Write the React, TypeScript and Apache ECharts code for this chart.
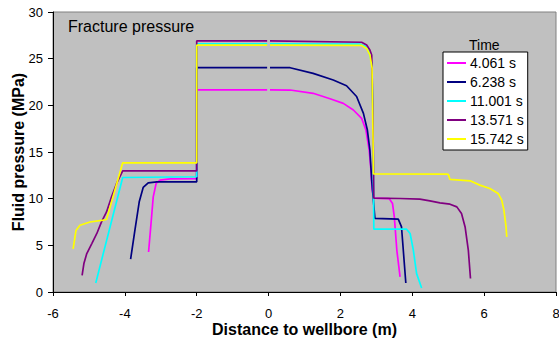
import React, { useEffect, useRef } from "react";
import * as echarts from "echarts";

const seriesNames = ["4.061 s", "6.238 s", "11.001 s", "13.571 s", "15.742 s"];
const seriesColors = ["#FF00FF", "#000080", "#00FFFF", "#800080", "#FFFF00"];

const GAP: any = ["-", "-"];

const s4061: any[] = [
  [-3.34, 4.29], [-3.28, 6.97], [-3.21, 10.19], [-3.13, 11.63], [-3.02, 11.98], [-2.74, 12.12], [-2.0, 12.15],
  [-2.0, 21.66], [-0.04, 21.66], GAP, [0.04, 21.66], [0.6, 21.64], [1.24, 21.29], [1.71, 20.7], [2.08, 20.21],
  [2.36, 19.5], [2.59, 18.6], [2.71, 17.35], [2.8, 15.2], [2.85, 13.06], [2.88, 11.0], [2.93, 10.05], [3.36, 10.0],
  [3.45, 9.48], [3.5, 8.05], [3.57, 4.47], [3.66, 1.61],
];
const s6238: any[] = [
  [-3.84, 3.51], [-3.72, 6.62], [-3.6, 9.66], [-3.49, 11.2], [-3.35, 11.7], [-3.11, 11.8], [-2.0, 11.8],
  [-2.0, 24.05], [-0.04, 24.05], GAP, [0.04, 24.05], [0.6, 24.03], [1.24, 23.43], [1.8, 22.71], [2.17, 22.1],
  [2.45, 20.95], [2.64, 19.14], [2.75, 17.35], [2.82, 15.2], [2.87, 11.98], [2.96, 7.88], [3.61, 7.8],
  [3.7, 6.97], [3.75, 4.47], [3.82, 0.97],
];
const s11001: any[] = [
  [-4.81, 0.97], [-4.06, 12.27], [-2.0, 12.35], [-2.0, 26.6], [-0.04, 26.6], GAP, [0.04, 26.6], [2.55, 26.55],
  [2.7, 26.3], [2.8, 25.7], [2.87, 24.5], [2.9, 20], [2.93, 6.73], [3.84, 6.73], [3.94, 6.27], [4.03, 4.47],
  [4.12, 1.97], [4.26, 0.43],
];
const s13571: any[] = [
  [-5.19, 1.79], [-5.14, 3.05], [-5.06, 4.12], [-4.92, 5.19], [-4.78, 6.27], [-4.65, 7.51], [-4.51, 8.58],
  [-4.37, 10.19], [-4.23, 11.63], [-4.06, 12.98], [-2.0, 12.98], [-2.0, 26.9], [-0.04, 26.9], GAP, [0.04, 26.9],
  [2.59, 26.76], [2.73, 26.47], [2.82, 25.93], [2.87, 25.4], [2.9, 20], [2.93, 10.05], [3.66, 10.02],
  [4.21, 9.95], [4.49, 9.77], [4.77, 9.55], [5.05, 9.41], [5.24, 9.12], [5.37, 8.41], [5.47, 6.97],
  [5.56, 4.47], [5.62, 1.44],
];
const s15742: any[] = [
  [-5.44, 4.61], [-5.36, 6.6], [-5.25, 7.15], [-4.97, 7.5], [-4.6, 7.7], [-4.51, 7.77], [-4.06, 13.84],
  [-2.0, 13.84], [-2.0, 26.45], [-0.04, 26.45], GAP, [0.04, 26.45], [2.59, 26.42], [2.73, 26.1], [2.82, 25.4],
  [2.88, 24], [2.92, 12.65], [4.96, 12.63], [5.0, 12.6], [5.05, 12.06], [5.61, 11.91], [5.88, 11.45],
  [6.16, 11.09], [6.39, 10.56], [6.49, 9.84], [6.55, 8.77], [6.61, 6.97], [6.63, 5.9],
];
const seriesData = [s4061, s6238, s11001, s13571, s15742];

const FONT = "'Liberation Sans', Arial, sans-serif";

export default function App() {
  const ref = useRef<HTMLDivElement>(null);
  useEffect(() => {
    if (!ref.current) return;
    const chart = echarts.init(ref.current, null, { renderer: "svg" });
    chart.setOption({
      animation: false,
      backgroundColor: "#ffffff",
      grid: {
        left: 53,
        top: 12,
        right: 3,
        bottom: 47,
        outerBoundsMode: "none",
        containLabel: false,
        show: true,
        backgroundColor: "#C0C0C0",
        borderColor: "#808080",
        borderWidth: 1,
      },
      xAxis: {
        type: "value",
        min: -6,
        max: 8,
        interval: 2,
        name: "Distance to wellbore (m)",
        nameLocation: "middle",
        nameGap: 37,
        nameMoveOverlap: false,
        nameTextStyle: { fontFamily: FONT, fontSize: 16, fontWeight: "bold", color: "#000", verticalAlign: "middle" },
        axisLine: { show: true, onZero: false, lineStyle: { color: "#000", width: 1 } },
        axisTick: { show: true, inside: false, length: 4, lineStyle: { color: "#000" } },
        axisLabel: { fontFamily: FONT, fontSize: 13, color: "#000", margin: 15 },
        splitLine: { show: false },
      },
      yAxis: {
        type: "value",
        min: 0,
        max: 30,
        interval: 5,
        name: "Fluid pressure (MPa)",
        nameLocation: "middle",
        nameGap: 35,
        nameMoveOverlap: false,
        nameTextStyle: { fontFamily: FONT, fontSize: 16, fontWeight: "bold", color: "#000", verticalAlign: "middle" },
        axisLine: { show: true, onZero: false, lineStyle: { color: "#000", width: 1 } },
        axisTick: { show: true, inside: false, length: 5, lineStyle: { color: "#000" } },
        axisLabel: { fontFamily: FONT, fontSize: 13, color: "#000", margin: 10 },
        splitLine: { show: false },
      },
      legend: {
        orient: "vertical",
        left: 443,
        top: 52,
        width: 84,
        backgroundColor: "#ffffff",
        borderColor: "#000000",
        borderWidth: 1,
        borderRadius: 0,
        padding: [4, 4, 4, 4],
        itemGap: 5,
        itemWidth: 19,
        itemHeight: 2,
        icon: "rect",
        data: seriesNames,
        textStyle: { fontFamily: FONT, fontSize: 14, color: "#000", padding: [0, 0, 0, -1] },
      },
      graphic: [
        {
          type: "text",
          left: 68,
          top: 18,
          style: { text: "Fracture pressure", font: `16px ${FONT}`, fill: "#000" },
        },
        {
          type: "text",
          left: 469,
          top: 38,
          style: { text: "Time", font: `14px ${FONT}`, fill: "#000" },
        },
      ],
      series: seriesData.map((d, i) => ({
        name: seriesNames[i],
        type: "line",
        data: d,
        showSymbol: false,
        symbol: "none",
        smooth: false,
        connectNulls: false,
        color: seriesColors[i],
        lineStyle: { color: seriesColors[i], width: 1.7 },
      })),
    });
    return () => chart.dispose();
  }, []);
  return <div ref={ref} style={{ width: 559, height: 339, position: "absolute", left: 0, top: 0 }} />;
}
